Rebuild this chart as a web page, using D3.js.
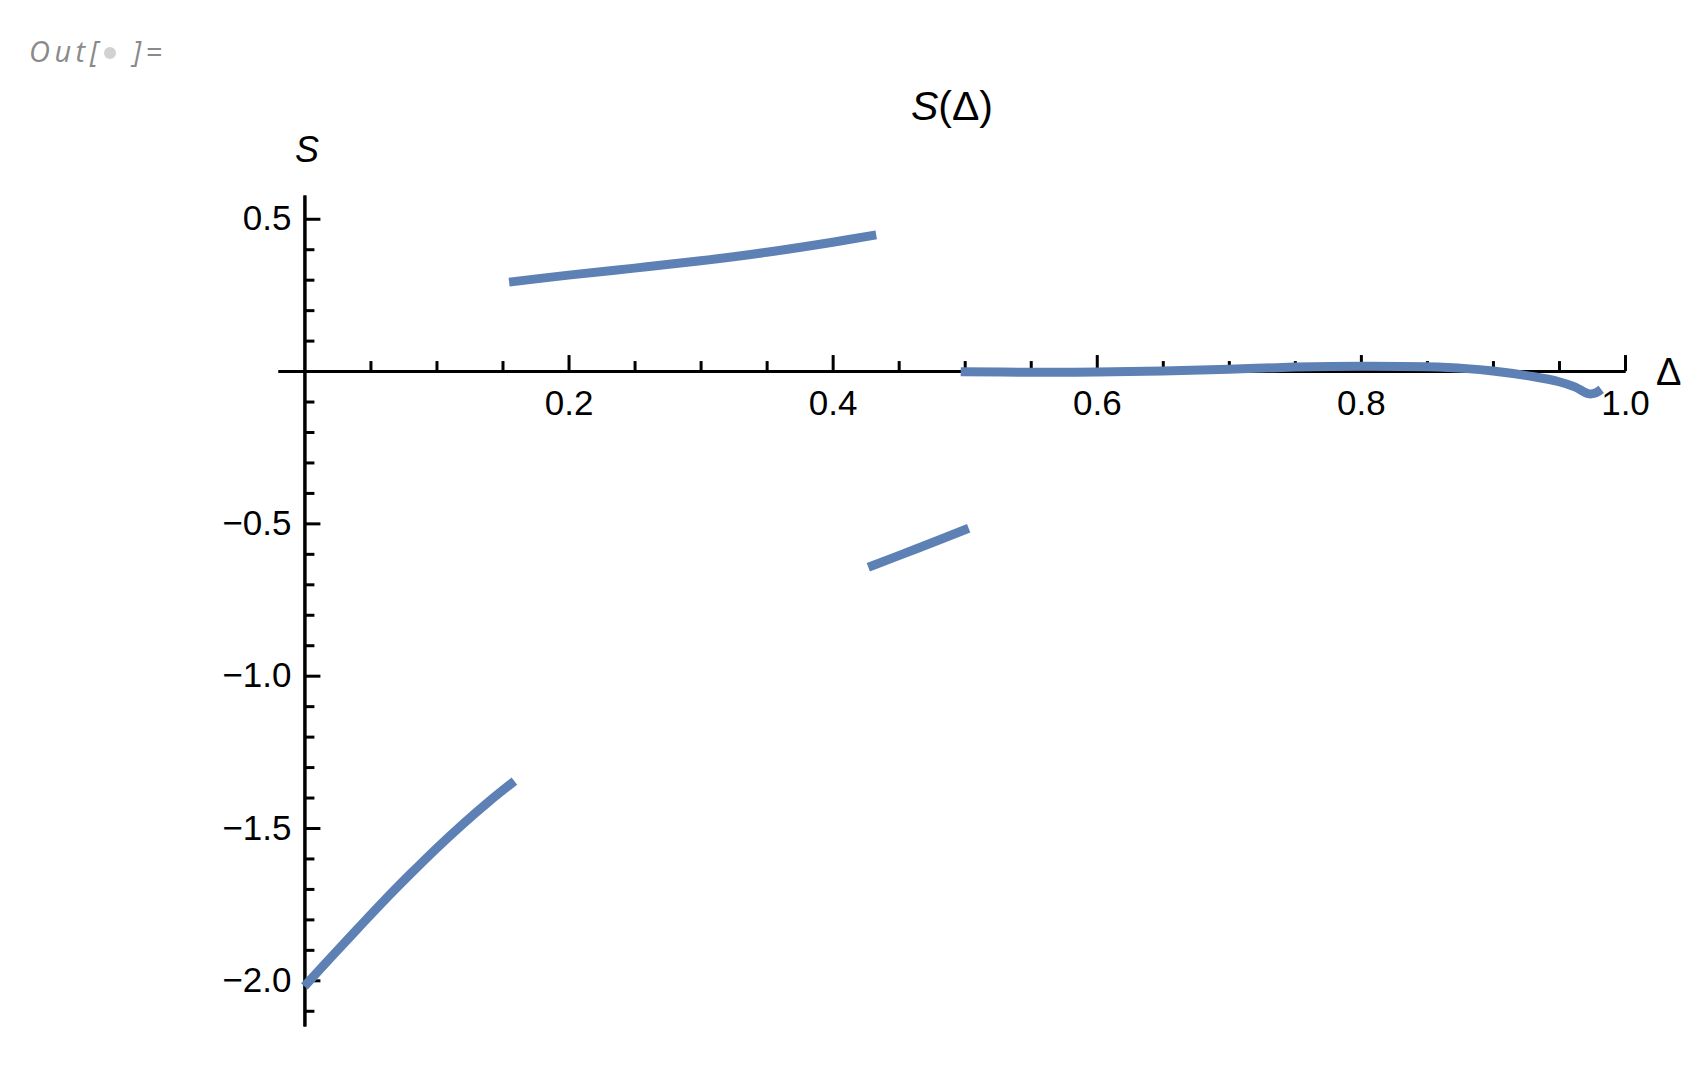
<!DOCTYPE html>
<html>
<head>
<meta charset="utf-8">
<script src="https://cdn.jsdelivr.net/npm/d3@7"></script>
<style>
  body { margin: 0; background: #fff; }
  .axis path, .axis line { stroke: #000; stroke-width: 3; }
  .axis text { font-family: "Liberation Sans", Arial, sans-serif; font-size: 35px; fill: #000; }
</style>
</head>
<body>
<div id="chart"></div>
<script>
// branches of S(Δ) as [Δ, S]
const branchLow = [[0.0, -2.02], [0.02, -1.925], [0.04, -1.832], [0.06, -1.74], [0.08, -1.652],
                   [0.10, -1.567], [0.12, -1.487], [0.14, -1.412], [0.159, -1.346]];
const branchHigh = [[0.155, 0.292], [0.2, 0.315], [0.25, 0.338], [0.3, 0.362], [0.35, 0.39],
                    [0.4, 0.423], [0.433, 0.447]];
const branchMid = [[0.427, -0.644], [0.465, -0.581], [0.503, -0.516]];
const branchTail = [[0.497, -0.002], [0.55, -0.004], [0.6, -0.003], [0.65, 0.0], [0.7, 0.006],
                    [0.75, 0.013], [0.8, 0.016], [0.85, 0.014], [0.88, 0.008], [0.9, 0.0],
                    [0.93, -0.018], [0.95, -0.035], [0.962, -0.052], [0.972, -0.074],
                    [0.977, -0.073], [0.982, -0.06]];
const branches = [branchLow, branchHigh, branchMid, branchTail];

const xMajor = [0.2, 0.4, 0.6, 0.8, 1.0];
const xMinor = [0.05, 0.1, 0.15, 0.25, 0.3, 0.35, 0.45, 0.5, 0.55, 0.65, 0.7, 0.75, 0.85, 0.9, 0.95];
const yMajor = [0.5, -0.5, -1.0, -1.5, -2.0];
const yMinor = [0.4, 0.3, 0.2, 0.1, -0.1, -0.2, -0.3, -0.4, -0.6, -0.7, -0.8, -0.9,
                -1.1, -1.2, -1.3, -1.4, -1.6, -1.7, -1.8, -1.9, -2.1];

const width = 1707, height = 1065;

const svg = d3.select('#chart').append('svg')
    .attr('width', width)
    .attr('height', height);

const x = d3.scaleLinear().domain([-0.02, 1.0]).range([278, 1625]);
const y = d3.scaleLinear().domain([-2.15, 0.578]).range([1026, 195]);

const fmt = d => d3.format('.1f')(d).replace('-', '\u2212');

// x axis (ticks point up, labels below)
svg.append('g')
    .attr('class', 'axis')
    .attr('transform', `translate(0,${y(0)})`)
    .call(d3.axisBottom(x).tickValues(xMinor).tickSize(-10).tickSizeOuter(0).tickFormat(''));
svg.append('g')
    .attr('class', 'axis')
    .attr('transform', `translate(0,${y(0)})`)
    .call(d3.axisBottom(x).tickValues(xMajor).tickSize(-16).tickSizeOuter(0).tickPadding(19).tickFormat(fmt));

// y axis (ticks point right, labels left)
svg.append('g')
    .attr('class', 'axis')
    .attr('transform', `translate(${x(0)},0)`)
    .call(d3.axisLeft(y).tickValues(yMinor).tickSize(-10).tickSizeOuter(0).tickFormat(''));
svg.append('g')
    .attr('class', 'axis')
    .attr('transform', `translate(${x(0)},0)`)
    .call(d3.axisLeft(y).tickValues(yMajor).tickSize(-16).tickSizeOuter(0).tickPadding(13).tickFormat(fmt));

// curves
const line = d3.line()
    .x(d => x(d[0]))
    .y(d => y(d[1]))
    .curve(d3.curveCatmullRom);

svg.selectAll('.branch')
    .data(branches)
    .join('path')
    .attr('class', 'branch')
    .attr('d', line)
    .attr('fill', 'none')
    .attr('stroke', '#5E81B5')
    .attr('stroke-width', 9)
    .attr('stroke-linecap', 'butt');

// labels
const sans = '"Liberation Sans", Arial, sans-serif';

svg.append('text')
    .attr('x', 952)
    .attr('y', 120)
    .attr('text-anchor', 'middle')
    .style('font-family', sans)
    .style('font-size', '41px')
    .html('<tspan font-style="italic">S</tspan>(Δ)');

svg.append('text')
    .attr('x', 307)
    .attr('y', 162)
    .attr('text-anchor', 'middle')
    .style('font-family', sans)
    .style('font-size', '36px')
    .style('font-style', 'italic')
    .text('S');

svg.append('text')
    .attr('x', 1656)
    .attr('y', 385)
    .style('font-family', sans)
    .style('font-size', '38px')
    .text('Δ');

// notebook output prompt
const prompt = svg.append('text')
    .attr('x', 29)
    .attr('y', 62)
    .style('font-family', '"Open Sans", sans-serif')
    .style('font-size', '29px')
    .style('font-style', 'italic')
    .style('letter-spacing', '4.5px')
    .attr('fill', '#8a8a8a');
prompt.append('tspan').text('Out[');
prompt.append('tspan').attr('dx', 30).text(']=');

svg.append('circle')
    .attr('cx', 110)
    .attr('cy', 53)
    .attr('r', 6)
    .attr('fill', '#d2d2d2');
</script>
</body>
</html>
